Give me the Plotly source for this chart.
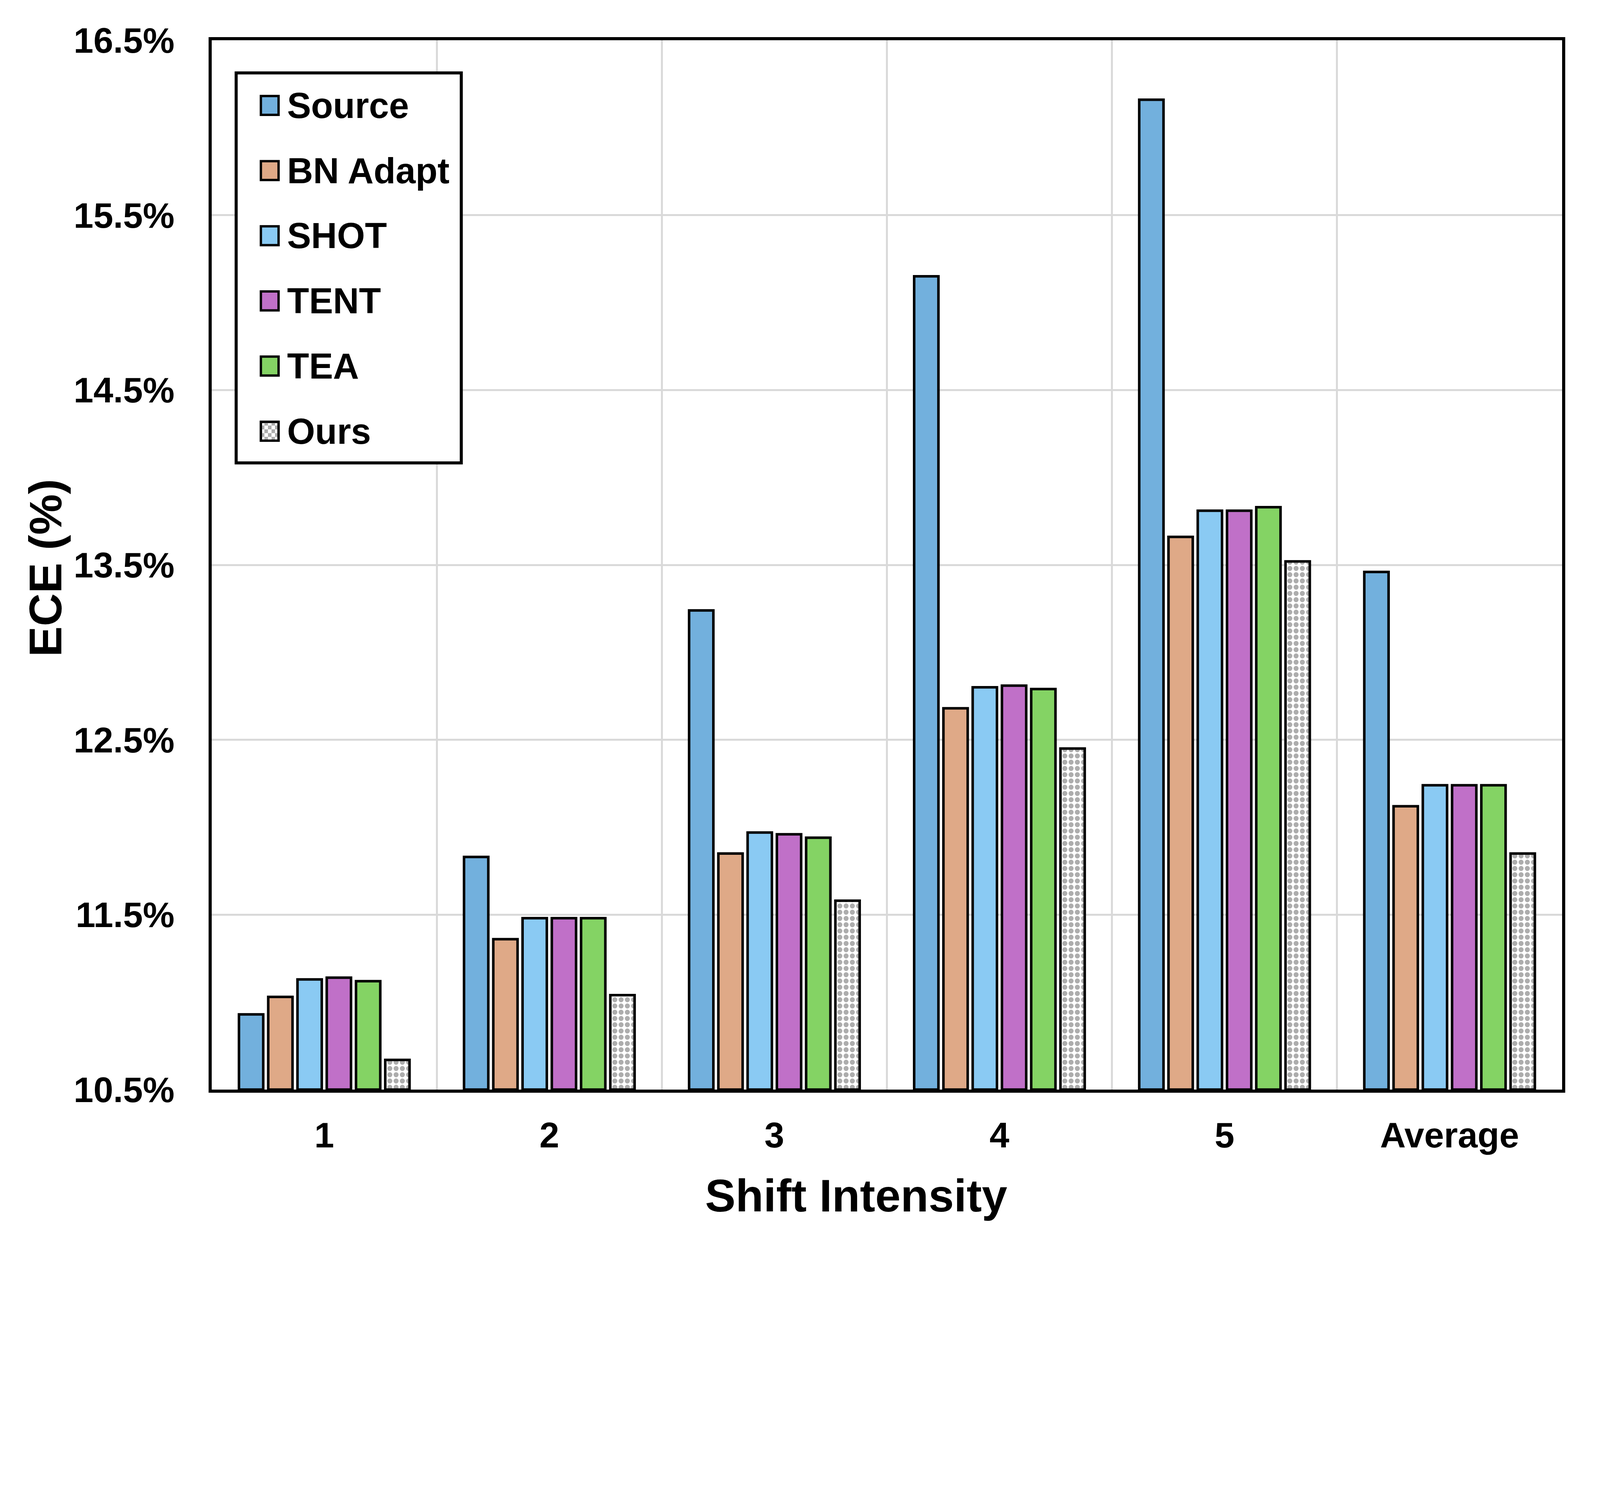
import plotly.graph_objects as go

categories = ["1", "2", "3", "4", "5", "Average"]
source = [10.93, 11.83, 13.24, 15.15, 16.16, 13.46]
bn_adapt = [11.03, 11.36, 11.85, 12.68, 13.66, 12.12]
shot = [11.13, 11.48, 11.97, 12.80, 13.81, 12.24]
tent = [11.14, 11.48, 11.96, 12.81, 13.81, 12.24]
tea = [11.12, 11.48, 11.94, 12.79, 13.83, 12.24]
ours = [10.67, 11.04, 11.58, 12.45, 13.52, 11.85]

series_names = ["Source", "BN Adapt", "SHOT", "TENT", "TEA", "Ours"]
series_values = [source, bn_adapt, shot, tent, tea, ours]
colors = ["#72B0DD", "#DFA987", "#8ACAF3", "#C070C8", "#84D364", "#FFFFFF"]

FONT = "Liberation Sans"
Y_MIN, Y_MAX = 10.5, 16.5

fig = go.Figure()
for name, vals, col in zip(series_names, series_values, colors):
    marker = dict(color=col, line=dict(color="black", width=6.5))
    if name == "Ours":
        marker["pattern"] = dict(shape=".", fgcolor="#ADADAD", bgcolor="white",
                                 size=16, solidity=0.5, fillmode="replace")
    fig.add_trace(go.Bar(x=categories, y=[v - Y_MIN for v in vals], base=Y_MIN,
                         name=name, marker=marker, showlegend=False))

# custom legend (box, swatches, labels) in paper coordinates
L_X0, L_X1, L_Y0, L_Y1 = 0.0181, 0.1848, 0.5972, 0.9689
shapes = [dict(type="rect", xref="paper", yref="paper", x0=L_X0, x1=L_X1,
               y0=L_Y0, y1=L_Y1, line=dict(color="black", width=7.8),
               fillcolor="white", layer="above")]
annotations = []
row_y = [0.9379, 0.8758, 0.8137, 0.7516, 0.6895, 0.6274]
sx0, sx1, sh = 0.0364, 0.0495, 0.0090
for name, col, yy in zip(series_names, colors, row_y):
    shapes.append(dict(type="rect", xref="paper", yref="paper", x0=sx0, x1=sx1,
                       y0=yy - sh, y1=yy + sh, fillcolor=col,
                       line=dict(color="black", width=6), layer="above"))
    if name == "Ours":
        nc, nr = 5, 5
        dx = (sx1 - sx0) / nc
        dy = 2 * sh / nr
        for i in range(nc):
            for j in range(nr):
                if (i + j) % 2 == 1:
                    shapes.append(dict(type="rect", xref="paper", yref="paper",
                                       x0=sx0 + i * dx, x1=sx0 + (i + 1) * dx,
                                       y0=yy - sh + j * dy, y1=yy - sh + (j + 1) * dy,
                                       fillcolor="#ADADAD", line=dict(width=0),
                                       layer="above"))
        shapes.append(dict(type="rect", xref="paper", yref="paper", x0=sx0, x1=sx1,
                           y0=yy - sh, y1=yy + sh, fillcolor="rgba(0,0,0,0)",
                           line=dict(color="black", width=6), layer="above"))
    annotations.append(dict(xref="paper", yref="paper", x=0.0553, y=yy,
                            xanchor="left", yanchor="middle", text=name,
                            showarrow=False,
                            font=dict(family=FONT, size=92, color="black", weight="bold")))

# axis titles
annotations.append(dict(xref="paper", yref="paper", x=0.4772, y=-0.1012,
                        xanchor="center", yanchor="middle", text="Shift Intensity",
                        showarrow=False,
                        font=dict(family=FONT, size=117, color="black", weight="bold")))
annotations.append(dict(xref="paper", yref="paper", x=-0.1232, y=0.497,
                        xanchor="center", yanchor="middle", text="ECE (%)",
                        textangle=-90, showarrow=False,
                        font=dict(family=FONT, size=117, color="black", weight="bold")))

fig.update_layout(
    width=4070, height=3200,
    margin=dict(l=534, r=79, t=95, b=419),
    paper_bgcolor="white", plot_bgcolor="white",
    barmode="group", bargap=0.22, bargroupgap=0.17,
    shapes=shapes, annotations=annotations,
    font=dict(family=FONT, color="black"),
)
fig.update_xaxes(
    type="category", tickson="boundaries", showgrid=True, gridcolor="#D9D9D9",
    gridwidth=5, showline=True, linecolor="black", linewidth=8.3, mirror=True,
    ticks="", ticklabelstandoff=31,
    tickfont=dict(family=FONT, size=91, color="black", weight="bold"),
)
fig.update_yaxes(
    range=[Y_MIN, Y_MAX], dtick=1, tick0=Y_MIN, tickformat=".1f", ticksuffix="%",
    showgrid=True, gridcolor="#D9D9D9", gridwidth=5,
    showline=True, linecolor="black", linewidth=8.3, mirror=True,
    ticks="", ticklabelstandoff=69, zeroline=False,
    tickfont=dict(family=FONT, size=91, color="black", weight="bold"),
)

fig.write_html("out.html")
